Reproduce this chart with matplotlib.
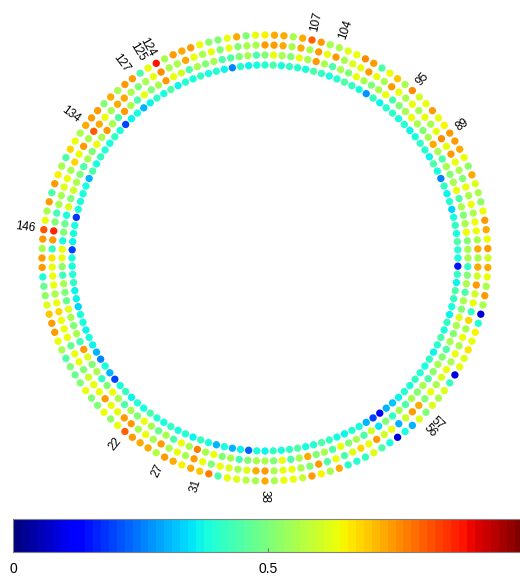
import numpy as np
import matplotlib
matplotlib.use('Agg')
import matplotlib.pyplot as plt

# values per channel, index 1..148 going counter-clockwise from the left (180 deg)
outer = [0.74, 0.74, 0.38, 0.48, 0.52, 0.62, 0.70, 0.74, 0.74, 0.63, 0.56, 0.45, 0.50, 0.48,
         0.50, 0.63, 0.50, 0.50, 0.63, 0.52, 0.63, 0.80, 0.74, 0.72, 0.72, 0.57, 0.74, 0.72, 0.65, 0.72, 0.70, 0.78, 0.45, 0.63, 0.62, 0.57, 0.56,
         0.72, 0.56, 0.63, 0.63, 0.58, 0.74, 0.65, 0.56, 0.72, 0.40, 0.40, 0.42, 0.62, 0.45, 0.38, 0.08, 0.38, 0.30,
         0.62, 0.50, 0.62, 0.56, 0.62, 0.42, 0.08, 0.63, 0.62, 0.66, 0.63, 0.65, 0.40, 0.08, 0.55, 0.74, 0.56, 0.63, 0.72, 0.60,
         0.74, 0.63, 0.72, 0.74, 0.63, 0.52, 0.56, 0.62, 0.72, 0.52, 0.63, 0.72, 0.74, 0.74, 0.65, 0.63, 0.74, 0.63,
         0.60, 0.76, 0.56, 0.70, 0.63, 0.45, 0.74, 0.76, 0.63, 0.62, 0.56, 0.55, 0.74, 0.80, 0.72, 0.56, 0.72, 0.72, 0.65, 0.63, 0.50, 0.72, 0.63,
         0.50, 0.52, 0.63, 0.74, 0.72, 0.74, 0.56, 0.88, 0.63, 0.45, 0.74, 0.74, 0.56, 0.72, 0.50, 0.74, 0.74, 0.72, 0.56, 0.63, 0.68, 0.45, 0.56, 0.65,
         0.74, 0.45, 0.74, 0.55, 0.63, 0.82, 0.74, 0.55]

ring3 = [0.67, 0.63, 0.63, 0.63, 0.56, 0.63, 0.68, 0.63, 0.63, 0.63, 0.48, 0.63, 0.63, 0.50,
         0.60, 0.63, 0.63, 0.74, 0.63, 0.63, 0.74, 0.74, 0.56, 0.63, 0.56, 0.74, 0.56, 0.63, 0.56, 0.74, 0.63, 0.50, 0.63, 0.62, 0.56, 0.62, 0.72,
         0.74, 0.56, 0.63, 0.63, 0.56, 0.50, 0.74, 0.45, 0.63, 0.45, 0.62, 0.68, 0.63, 0.74, 0.60, 0.63, 0.30, 0.60,
         0.74, 0.72, 0.50, 0.63, 0.56, 0.62, 0.63, 0.55, 0.63, 0.56, 0.63, 0.56, 0.68, 0.42, 0.63, 0.60, 0.74, 0.60, 0.72, 0.56,
         0.72, 0.56, 0.63, 0.63, 0.56, 0.63, 0.56, 0.63, 0.50, 0.56, 0.63, 0.74, 0.63, 0.76, 0.63, 0.56, 0.63, 0.56,
         0.63, 0.56, 0.63, 0.74, 0.56, 0.63, 0.74, 0.63, 0.62, 0.56, 0.74, 0.63, 0.74, 0.56, 0.72, 0.56, 0.72, 0.74, 0.74, 0.56, 0.56, 0.50, 0.63,
         0.50, 0.63, 0.56, 0.63, 0.72, 0.56, 0.56, 0.76, 0.63, 0.56, 0.50, 0.56, 0.72, 0.72, 0.56, 0.63, 0.72, 0.80, 0.56, 0.74, 0.63, 0.68, 0.56, 0.63,
         0.62, 0.56, 0.55, 0.43, 0.50, 0.87, 0.74, 0.42]

ring2 = [0.63, 0.52, 0.43, 0.56, 0.50, 0.47, 0.62, 0.56, 0.50, 0.56, 0.43, 0.74, 0.62, 0.50,
         0.56, 0.42, 0.50, 0.63, 0.56, 0.45, 0.56, 0.50, 0.63, 0.56, 0.48, 0.56, 0.45, 0.63, 0.56, 0.78, 0.56, 0.63, 0.50, 0.56, 0.43, 0.50, 0.56,
         0.56, 0.50, 0.63, 0.45, 0.56, 0.72, 0.50, 0.56, 0.45, 0.63, 0.50, 0.56, 0.45, 0.60, 0.35, 0.50, 0.42, 0.56,
         0.45, 0.56, 0.50, 0.56, 0.45, 0.52, 0.56, 0.50, 0.45, 0.56, 0.50, 0.56, 0.62, 0.50, 0.56, 0.45, 0.56, 0.50, 0.42, 0.56,
         0.56, 0.50, 0.63, 0.56, 0.50, 0.56, 0.45, 0.63, 0.56, 0.50, 0.56, 0.45, 0.56, 0.72, 0.56, 0.50, 0.56, 0.63,
         0.56, 0.50, 0.45, 0.63, 0.56, 0.50, 0.56, 0.63, 0.50, 0.56, 0.45, 0.56, 0.74, 0.56, 0.63, 0.50, 0.56, 0.63, 0.50, 0.45, 0.56, 0.50, 0.45,
         0.45, 0.56, 0.50, 0.56, 0.45, 0.60, 0.63, 0.74, 0.56, 0.50, 0.63, 0.45, 0.56, 0.74, 0.45, 0.56, 0.74, 0.56, 0.63, 0.50, 0.56, 0.45, 0.50, 0.56,
         0.60, 0.50, 0.62, 0.38, 0.47, 0.50, 0.38, 0.63]

inner = [0.38, 0.38, 0.40, 0.42, 0.36, 0.37, 0.33, 0.38, 0.38, 0.36, 0.38, 0.36, 0.30, 0.25,
         0.38, 0.30, 0.20, 0.38, 0.42, 0.36, 0.40, 0.38, 0.45, 0.40, 0.38, 0.42, 0.38, 0.40, 0.36, 0.42, 0.38, 0.30, 0.38, 0.30, 0.36, 0.22, 0.38,
         0.36, 0.42, 0.38, 0.42, 0.45, 0.38, 0.40, 0.45, 0.42, 0.38, 0.36, 0.40, 0.38, 0.30, 0.20, 0.12, 0.30, 0.32,
         0.36, 0.40, 0.38, 0.42, 0.40, 0.38, 0.42, 0.36, 0.40, 0.45, 0.38, 0.42, 0.36, 0.38, 0.42, 0.45, 0.36, 0.42, 0.15, 0.38,
         0.40, 0.45, 0.38, 0.42, 0.38, 0.33, 0.40, 0.36, 0.42, 0.25, 0.38, 0.45, 0.36, 0.40, 0.42, 0.38, 0.36, 0.40,
         0.38, 0.42, 0.40, 0.36, 0.42, 0.28, 0.38, 0.42, 0.45, 0.40, 0.38, 0.42, 0.45, 0.38, 0.40, 0.42, 0.38, 0.45, 0.40, 0.38, 0.36, 0.40, 0.25,
         0.36, 0.40, 0.38, 0.42, 0.38, 0.40, 0.36, 0.45, 0.38, 0.42, 0.36, 0.30, 0.38, 0.36, 0.20, 0.38, 0.42, 0.38, 0.40, 0.42, 0.38, 0.45, 0.30, 0.38,
         0.38, 0.38, 0.38, 0.18, 0.38, 0.38, 0.36, 0.20]

labelled = [22, 27, 31, 38, 56, 57, 89, 95, 104, 107, 124, 125, 127, 134, 146]

n = len(outer)
ang = 180 + np.arange(n) * 360.0 / n
th = np.deg2rad(ang)

cmap = plt.get_cmap('jet', 64)

fig = plt.figure(figsize=(5.2, 5.77), dpi=100)
ax = fig.add_axes([0, 0, 1, 1])
ax.set_xlim(-265, 255)
ax.set_ylim(-319, 258)
ax.axis('off')

radii = [193, 203, 213, 223]
for r, vals in zip(radii, [inner, ring2, ring3, outer]):
    ax.scatter(r * np.cos(th), r * np.sin(th), c=vals, cmap=cmap, vmin=0, vmax=1,
               s=28, linewidths=0)

for k in labelled:
    a = ang[k - 1] % 360
    if 90 < a < 270:
        rot, ha = a - 180, 'right'
    else:
        rot, ha = a, 'left'
    ax.text(232 * np.cos(np.deg2rad(a)), 232 * np.sin(np.deg2rad(a)), str(k),
            rotation=rot, rotation_mode='anchor', ha=ha, va='center',
            fontsize=8.5, family='Liberation Sans')

sm = plt.cm.ScalarMappable(cmap=cmap, norm=plt.Normalize(0, 1))
cax = fig.add_axes([13 / 520, 25 / 577, 510 / 520, 33 / 577])
cb = fig.colorbar(sm, cax=cax, orientation='horizontal', ticks=[0, 0.5, 1])
cb.ax.set_xticklabels(['0', '0.5', '1'])
cb.outline.set_edgecolor('#808080')
cb.outline.set_linewidth(0.8)
cax.tick_params(direction='in', length=3, width=0.6, color='#606060',
                labelsize=10, pad=7)
for t in cax.get_xticklabels():
    t.set_family('Liberation Sans')

fig.savefig('out.png', dpi=100)
